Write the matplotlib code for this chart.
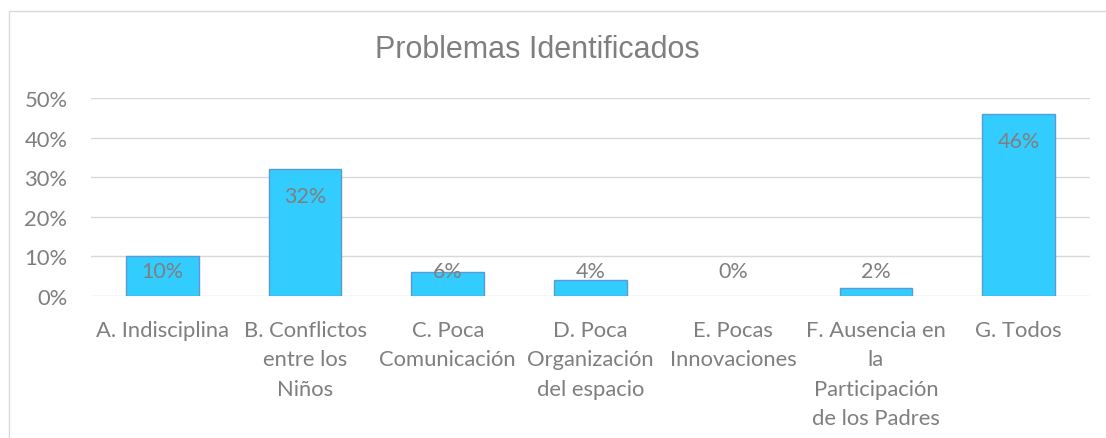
import matplotlib.pyplot as plt
from matplotlib.patches import Rectangle
from matplotlib.ticker import PercentFormatter

categories = ['A. Indisciplina', 'B. Conflictos\nentre los\nNiños',
              'C. Poca\nComunicación', 'D. Poca\nOrganización\ndel espacio',
              'E. Pocas\nInnovaciones',
              'F. Ausencia en\nla\nParticipación\nde los Padres', 'G. Todos']
values = [0.10, 0.32, 0.06, 0.04, 0.00, 0.02, 0.46]
y_ticks = [0.0, 0.1, 0.2, 0.3, 0.4, 0.5]
title = 'Problemas Identificados'

TEXT = '#7F7F7F'
GRID = '#D9D9D9'
W, H = 1106, 439


def main():
    plt.rcParams['font.family'] = ['Lato', 'DejaVu Sans']
    fig = plt.figure(figsize=(W / 100, H / 100), dpi=100)

    # chart area border (runs off the right and bottom edges)
    fig.patches.append(Rectangle((9 / W, -0.1), 1.2, 1 - 12 / H + 0.1,
                                 transform=fig.transFigure, fill=False,
                                 edgecolor=GRID, linewidth=1))

    ax = fig.add_axes([91 / W, (H - 297) / H, (1090 - 91) / W, 198 / H])
    x = range(len(categories))
    widths = [1 if v > 0 else 0 for v in values]
    ax.bar(x, values, width=0.51, color='#33CCFF', edgecolor='#5B9BD5',
           linewidth=widths, zorder=3)

    for xi, v in zip(x, values):
        ypos = max(v - 0.068, 0.063)
        ax.text(xi, ypos, f'{v:.0%}', ha='center', va='center',
                fontsize=15.5, color=TEXT, zorder=4)

    ax.set_ylim(0, 0.5)
    ax.set_xlim(-0.5, len(categories) - 0.5)
    ax.set_yticks(y_ticks)
    ax.yaxis.set_major_formatter(PercentFormatter(1.0, decimals=0))
    ax.set_xticks(list(x))
    ax.set_xticklabels(categories, linespacing=1.6)
    ax.tick_params(axis='both', length=0, labelsize=15.8, colors=TEXT)
    ax.tick_params(axis='y', pad=17)
    ax.tick_params(axis='x', pad=17)
    ax.grid(axis='y', color=GRID, linewidth=1, zorder=0)
    for s in ax.spines.values():
        s.set_visible(False)

    fig.text(537 / W, 1 - 50 / H, title, ha='center', va='center',
             fontsize=22, color=TEXT, family=['Liberation Sans'])

    fig.savefig('out.png', dpi=100)


if __name__ == '__main__':
    main()
